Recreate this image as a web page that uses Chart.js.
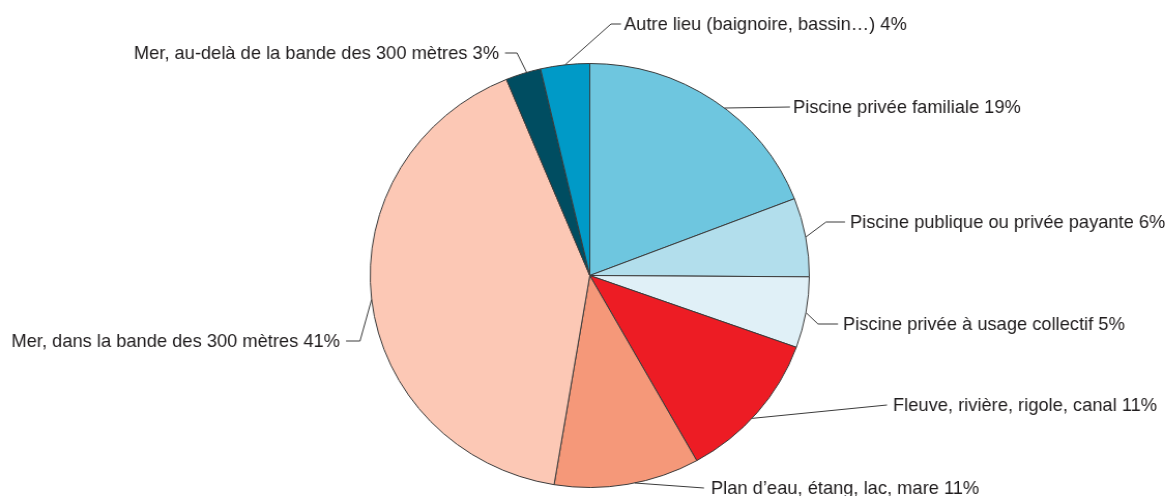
<!DOCTYPE html>
<html>
<head>
<meta charset="utf-8">
<script src="https://cdn.jsdelivr.net/npm/chart.js@4/dist/chart.umd.min.js"></script>
<style>
  html, body { margin: 0; padding: 0; background: #fff; overflow: hidden; }
  #wrap { width: 1125px; height: 496px; transform: scaleX(1.0356); transform-origin: 0 0; }
</style>
</head>
<body>
<div id="wrap"><canvas id="myChart" width="1125" height="496"></canvas></div>
<script>
// lieux de noyade (%) - parts, etiquettes arrondies
const categories = [
    'Piscine privée familiale',
    'Piscine publique ou privée payante',
    'Piscine privée à usage collectif',
    'Fleuve, rivière, rigole, canal',
    'Plan d\u2019eau, étang, lac, mare',
    'Mer, dans la bande des 300 mètres',
    'Mer, au-delà de la bande des 300 mètres',
    'Autre lieu (baignoire, bassin\u2026)'
];
const values = [19.1, 6.0, 5.4, 11.4, 10.7, 41.2, 2.6, 3.6];
const colors = ['#6ec6df', '#b2deec', '#e0f0f7', '#ed1c24', '#f59879', '#fcc8b5', '#004d61', '#009ac7'];

// position des etiquettes (px ecran) : point sur l'arc (t), coude, fin du trait, texte
const SX = 1.0356;
const callouts = [
    {t: 0.55, pts: [[790, 107]], tx: 793, ty: 107, align: 'left'},
    {t: 0.5, pts: [[826, 222], [845, 222]], tx: 850, ty: 222, align: 'left'},
    {t: 0.5, pts: [[818, 324], [838, 324]], tx: 843, ty: 324, align: 'left'},
    {t: 0.55, pts: [[887, 405]], tx: 893, ty: 405, align: 'left'},
    {t: 0.45, pts: [[704, 488]], tx: 711, ty: 488, align: 'left'},
    {t: 0.5, pts: [[360, 341], [346, 341]], tx: 340, ty: 341, align: 'right'},
    {t: 0.6, pts: [[517, 53], [505, 53]], tx: 499, ty: 53, align: 'right'},
    {t: 0.5, pts: [[611, 24], [621, 24]], tx: 624, ty: 24, align: 'left'}
];

const FONT = '19px "Liberation Sans", Arial, sans-serif';

const calloutPlugin = {
    id: 'callouts',
    afterDraw(chart) {
        const ctx = chart.ctx;
        const arcs = chart.getDatasetMeta(0).data;
        const label = function (i) { return categories[i] + ' ' + Math.round(values[i]) + '%'; };
        ctx.save();
        ctx.strokeStyle = '#3a3a3a';
        ctx.lineWidth = 1;
        ctx.fillStyle = '#1f1c1d';
        ctx.font = FONT;
        ctx.textBaseline = 'middle';
        // police etroite : on compresse horizontalement (cible ~220px pour la 1re etiquette)
        const k = 220 / ctx.measureText(label(0)).width;
        arcs.forEach(function (arc, i) {
            const c = callouts[i];
            const a = arc.startAngle + (arc.endAngle - arc.startAngle) * c.t;
            const x0 = arc.x + Math.cos(a) * arc.outerRadius;
            const y0 = arc.y + Math.sin(a) * arc.outerRadius;
            ctx.beginPath();
            ctx.moveTo(x0, y0);
            c.pts.forEach(function (p) { ctx.lineTo(p[0] / SX, p[1]); });
            ctx.stroke();
            ctx.save();
            ctx.translate(c.tx / SX, c.ty);
            ctx.scale(k, 1);
            ctx.textAlign = c.align;
            ctx.fillText(label(i), 0, 1);
            ctx.restore();
        });
        ctx.restore();
    }
};

var ctx = document.getElementById('myChart').getContext('2d');
var myPieChart = new Chart(ctx, {
    type: 'pie',
    data: {
        labels: categories,
        datasets: [{
            data: values,
            backgroundColor: colors,
            borderColor: '#3a3a3a',
            borderWidth: 1,
            hoverOffset: 0,
            offset: 0
        }]
    },
    options: {
        responsive: false,
        animation: false,
        events: [],
        layout: {
            padding: {left: 357, right: 343, top: 63, bottom: 8}
        },
        plugins: {
            legend: {display: false},
            tooltip: {enabled: false}
        }
    },
    plugins: [calloutPlugin]
});
</script>
</body>
</html>
